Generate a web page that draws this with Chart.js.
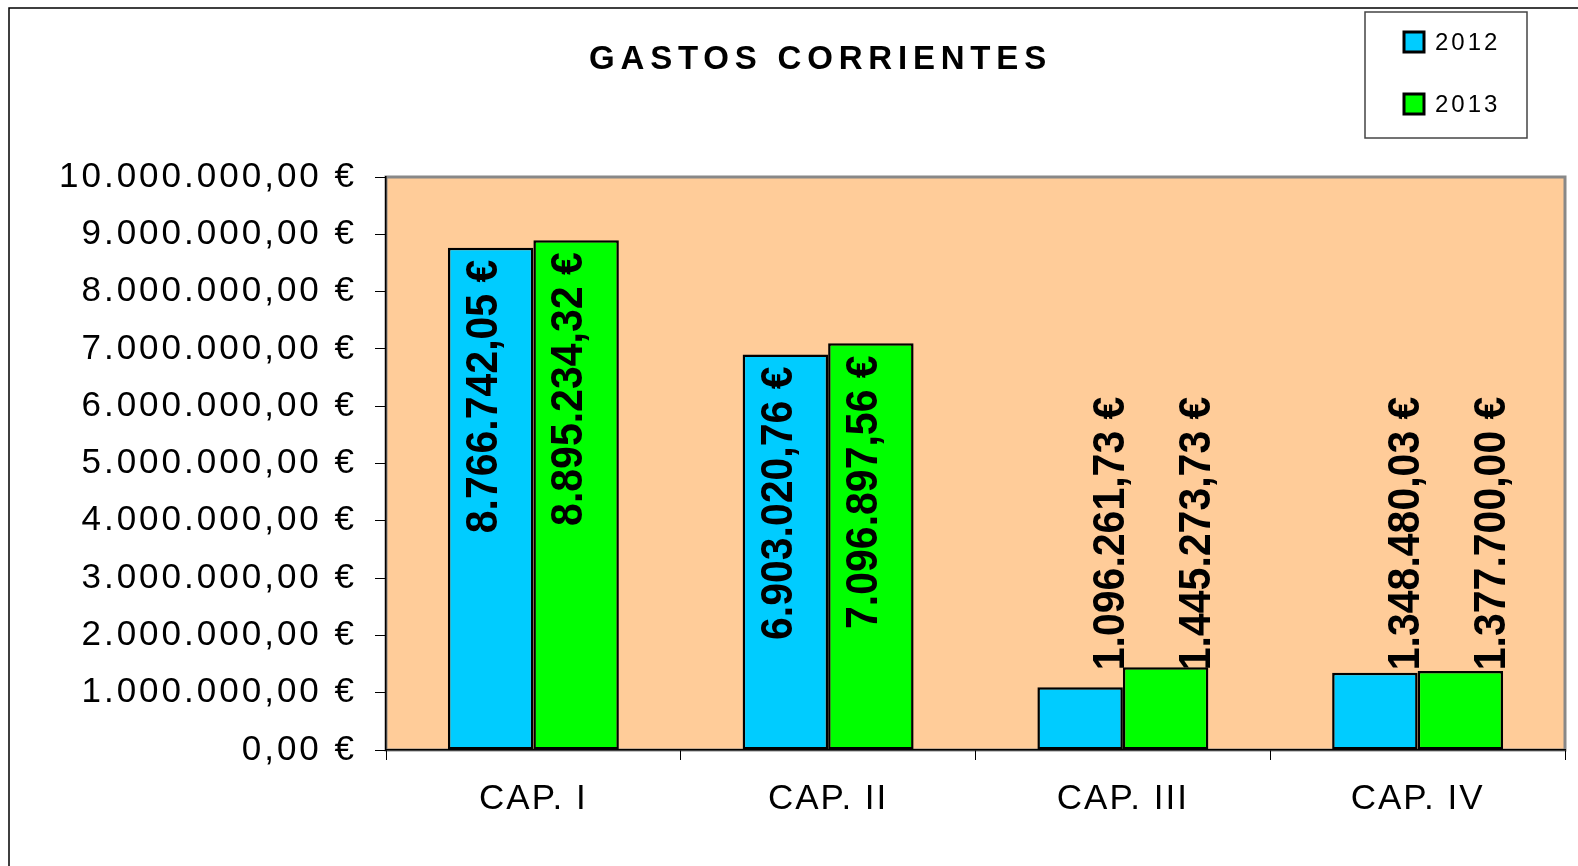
<!DOCTYPE html>
<html>
<head>
<meta charset="utf-8">
<title>Gastos corrientes</title>
<script src="https://cdn.jsdelivr.net/npm/chart.js@4.4.1/dist/chart.umd.min.js"></script>
<style>
  html, body { margin: 0; padding: 0; background: #fff; }
  canvas { display: block; }
</style>
</head>
<body>
<canvas id="myChart" width="1578" height="866"></canvas>
<script>
// chart data
const categories = ['CAP. I', 'CAP. II', 'CAP. III', 'CAP. IV'];
const seriesNames = ['2012', '2013'];
const values2012 = [8766742.05, 6903020.76, 1096261.73, 1348480.03];
const values2013 = [8895234.32, 7096897.56, 1445273.73, 1377700.00];
const seriesColors = ['#00CCFF', '#00FF00'];
const yMin = 0, yMax = 10000000, yStep = 1000000;
const chartTitle = 'GASTOS CORRIENTES';

const FONT = '"Liberation Sans", Arial, sans-serif';

// 1234567.8 -> "1.234.567,80 €"
function euro(v){
    let parts = v.toFixed(2).split('.');
    let intPart = parts[0].replace(/\B(?=(\d{3})+(?!\d))/g, '.');
    return intPart + ',' + parts[1] + ' €';
}

// wraps a draw method so its text gets some letter spacing (and an optional x shift)
function spaced(obj, method, px, dx){
    if (!obj || obj[method]._spaced) return;
    const orig = obj[method];
    const f = function(...args){
        this.ctx.save();
        this.ctx.letterSpacing = px;
        if (dx) this.ctx.translate(dx, 0);
        orig.apply(this, args);
        this.ctx.restore();
    };
    f._spaced = true;
    obj[method] = f;
}

const spacingPlugin = {
    id: 'spacing',
    afterLayout(chart){
        spaced(chart.scales.y, 'drawLabels', '3px');
        spaced(chart.scales.x, 'drawLabels', '2px');
        spaced(chart.titleBlock, 'draw', '5.8px', 38); // title sits a bit right of the canvas centre
    }
};

// frame, plot background
const backgroundPlugin = {
    id: 'bg',
    beforeDraw(chart){
        const ctx = chart.ctx;
        const a = chart.chartArea;
        ctx.save();
        ctx.fillStyle = '#fff';
        ctx.fillRect(0, 0, chart.width, chart.height);
        // outer frame (only top and left visible)
        ctx.strokeStyle = '#000';
        ctx.lineWidth = 1.5;
        ctx.beginPath();
        ctx.moveTo(9, chart.height);
        ctx.lineTo(9, 8);
        ctx.lineTo(chart.width, 8);
        ctx.stroke();
        // plot area
        ctx.fillStyle = '#FFCC99';
        ctx.fillRect(a.left, a.top, a.right - a.left, a.bottom - a.top);
        ctx.strokeStyle = '#888';
        ctx.lineWidth = 3;
        ctx.strokeRect(a.left, a.top, a.right - a.left, a.bottom - a.top);
        ctx.restore();
    }
};

// value labels, rotated
const labelPlugin = {
    id: 'valueLabels',
    afterDatasetsDraw(chart){
        const ctx = chart.ctx;
        ctx.save();
        ctx.font = 'bold 41px ' + FONT;
        ctx.fillStyle = '#000';
        ctx.textBaseline = 'middle';
        ctx.letterSpacing = '0px';

        // first pass: which labels do not fit inside their bar
        let items = [];
        let outsideTop = Infinity;
        chart.data.datasets.forEach((ds, i) => {
            chart.getDatasetMeta(i).data.forEach((bar, j) => {
                let text = euro(ds.data[j]);
                let w = ctx.measureText(text).width;
                let inside = (bar.base - bar.y) > w + 30;
                if (!inside) outsideTop = Math.min(outsideTop, bar.y);
                items.push({bar, text, inside});
            });
        });

        items.forEach(it => {
            ctx.save();
            if (it.inside){
                ctx.translate(it.bar.x - 6, it.bar.y + 12);
                ctx.rotate(-Math.PI / 2);
                ctx.scale(1, 1.08);
                ctx.textAlign = 'right';
            } else {
                ctx.translate(it.bar.x + 32, outsideTop + 3);
                ctx.rotate(-Math.PI / 2);
                ctx.scale(1, 1.08);
                ctx.textAlign = 'left';
            }
            ctx.fillText(it.text, 0, 0);
            ctx.restore();
        });
        ctx.restore();
    }
};

// boxed legend at top right
const legendPlugin = {
    id: 'boxLegend',
    afterDraw(chart){
        const ctx = chart.ctx;
        ctx.save();
        ctx.fillStyle = '#fff';
        ctx.fillRect(1365, 12, 162, 126);
        ctx.strokeStyle = '#444';
        ctx.lineWidth = 1.5;
        ctx.strokeRect(1365, 12, 162, 126);
        ctx.font = '24px ' + FONT;
        ctx.letterSpacing = '3px';
        ctx.textBaseline = 'middle';
        ctx.textAlign = 'left';
        chart.data.datasets.forEach((ds, i) => {
            let cy = 42 + i * 62;
            ctx.fillStyle = ds.backgroundColor;
            ctx.fillRect(1404, cy - 10, 20, 20);
            ctx.strokeStyle = '#000';
            ctx.lineWidth = 3;
            ctx.strokeRect(1404, cy - 10, 20, 20);
            ctx.fillStyle = '#000';
            ctx.fillText(ds.label, 1435, cy + 1);
        });
        ctx.restore();
    }
};

let chartCanvas = document.getElementById('myChart').getContext('2d');

let chart1 = new Chart(chartCanvas, {
    type: 'bar',
    data: {
        labels: categories,
        datasets: [{
            label: seriesNames[0],
            data: values2012,
            backgroundColor: seriesColors[0],
            borderColor: '#000',
            borderWidth: 2.5,
            borderSkipped: false
        }, {
            label: seriesNames[1],
            data: values2013,
            backgroundColor: seriesColors[1],
            borderColor: '#000',
            borderWidth: 2.5,
            borderSkipped: false
        }]
    },
    options: {
        responsive: false,
        animation: false,
        datasets: {
            bar: { barPercentage: 1, categoryPercentage: 0.58 }
        },
        layout: {
            padding: { left: 0, right: 13, top: 0, bottom: 0 }
        },
        plugins: {
            legend: { display: false },
            tooltip: { enabled: false },
            title: {
                display: true,
                text: chartTitle,
                color: '#000',
                font: { family: FONT, size: 33, weight: 'bold', lineHeight: 1.2 },
                padding: { top: 40.5, bottom: 96.9 }
            }
        },
        scales: {
            x: {
                grid: { drawOnChartArea: false, tickLength: 10, color: '#000', lineWidth: 1 },
                border: { color: '#000', width: 1.5 },
                ticks: {
                    color: '#000',
                    maxRotation: 0,
                    padding: 18,
                    font: { family: FONT, size: 35 }
                },
                afterFit(scale){ scale.height = 116; }
            },
            y: {
                min: yMin,
                max: yMax,
                grid: { drawOnChartArea: false, tickLength: 11, color: '#000', lineWidth: 1 },
                border: { color: '#000', width: 1.5 },
                ticks: {
                    stepSize: yStep,
                    color: '#000',
                    padding: 18,
                    font: { family: FONT, size: 35 },
                    callback: (v) => euro(v)
                },
                afterFit(scale){ scale.width = 386; }
            }
        }
    },
    plugins: [backgroundPlugin, spacingPlugin, labelPlugin, legendPlugin]
});
</script>
</body>
</html>
